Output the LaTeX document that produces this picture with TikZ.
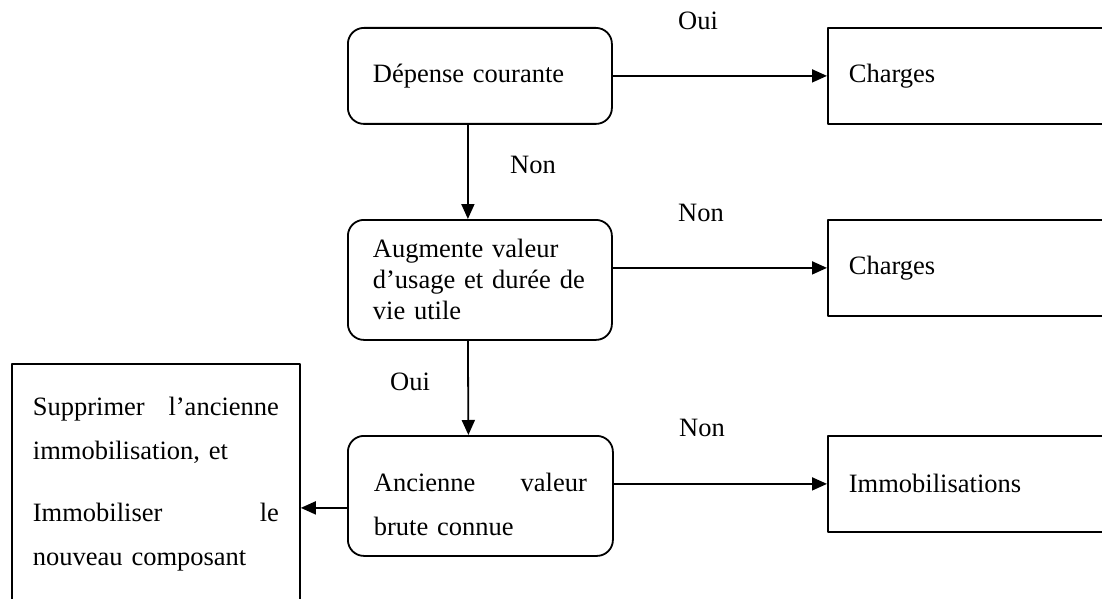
\documentclass[tikz,border=0pt]{standalone}
\usepackage{fontspec}
\setmainfont{Liberation Serif}
\usetikzlibrary{arrows.meta,calc}
\begin{document}
\begin{tikzpicture}[x=1pt,y=-1pt,line width=1.8pt,line join=round,
	font=\fontsize{26.5}{44}\selectfont,
	arr/.style={-{Triangle[length=15pt,width=13pt]}},
	decision/.style={draw,rounded corners=16pt,anchor=north west,inner sep=0pt,align=left},
	result/.style={draw,anchor=north west,inner sep=0pt,align=left}]
	\path[use as bounding box] (0,0) rectangle (1102,599);
	\clip (0,0) rectangle (1102,599);
	% questions
	\node[decision,minimum width=264pt,minimum height=96pt,inner xsep=25pt,text width=214pt] (dep) at (347,27) {Dépense courante};
	\node[decision,minimum width=264pt,minimum height=120pt,inner xsep=25pt,text width=214pt,font=\fontsize{26.5}{31}\selectfont] (aug) at (347,219) {Augmente valeur\\ d’usage et durée de\\ vie utile};
	\node[decision,minimum width=265pt,minimum height=120pt,inner xsep=26pt,text width=213pt] (anc) at (347,435) {\rule{0pt}{36pt}Ancienne\hfill valeur\\ brute connue};
	% results
	\node[result,minimum width=300pt,minimum height=96pt,inner xsep=21pt,text width=258pt] (ch1) at (827,27) {Charges};
	\node[result,minimum width=300pt,minimum height=96pt,inner xsep=21pt,text width=258pt] (ch2) at (827,219) {Charges};
	\node[result,minimum width=300pt,minimum height=96pt,inner xsep=21pt,text width=258pt] (immo) at (827,435) {Immobilisations};
	\node[result,minimum width=288pt,minimum height=240pt,inner xsep=21pt,text width=246pt] (sup) at (11,363) {Supprimer\hfill l’ancienne\\ immobilisation, et\\[18pt] Immobiliser\hfill le\\ nouveau composant};
	% arrows
	\coordinate (ancw) at ($(anc.west)+(0,12)$);
	\draw[arr] (dep.east) -- (ch1.west);
	\draw[arr] ($(dep.south)+(-12,0)$) -- ($(aug.north)+(-12,0)$);
	\draw[arr] (aug.east |- ch2.west) -- (ch2.west);
	\draw[arr] ($(aug.south)+(-12,0)$) -- ($(anc.north)+(-12,0)$);
	\draw[arr] (anc.east |- immo.west) -- (immo.west);
	\draw[arr] (ancw) -- (ancw -| sup.east);
	% labels
	\node (oui1) at (698,21) {Oui};
	\node (non1) at (533,165) {Non};
	\node (non2) at (701,213) {Non};
	\node (oui2) at (410,382) {Oui};
	\node (non3) at (702,428) {Non};
\end{tikzpicture}
\end{document}
